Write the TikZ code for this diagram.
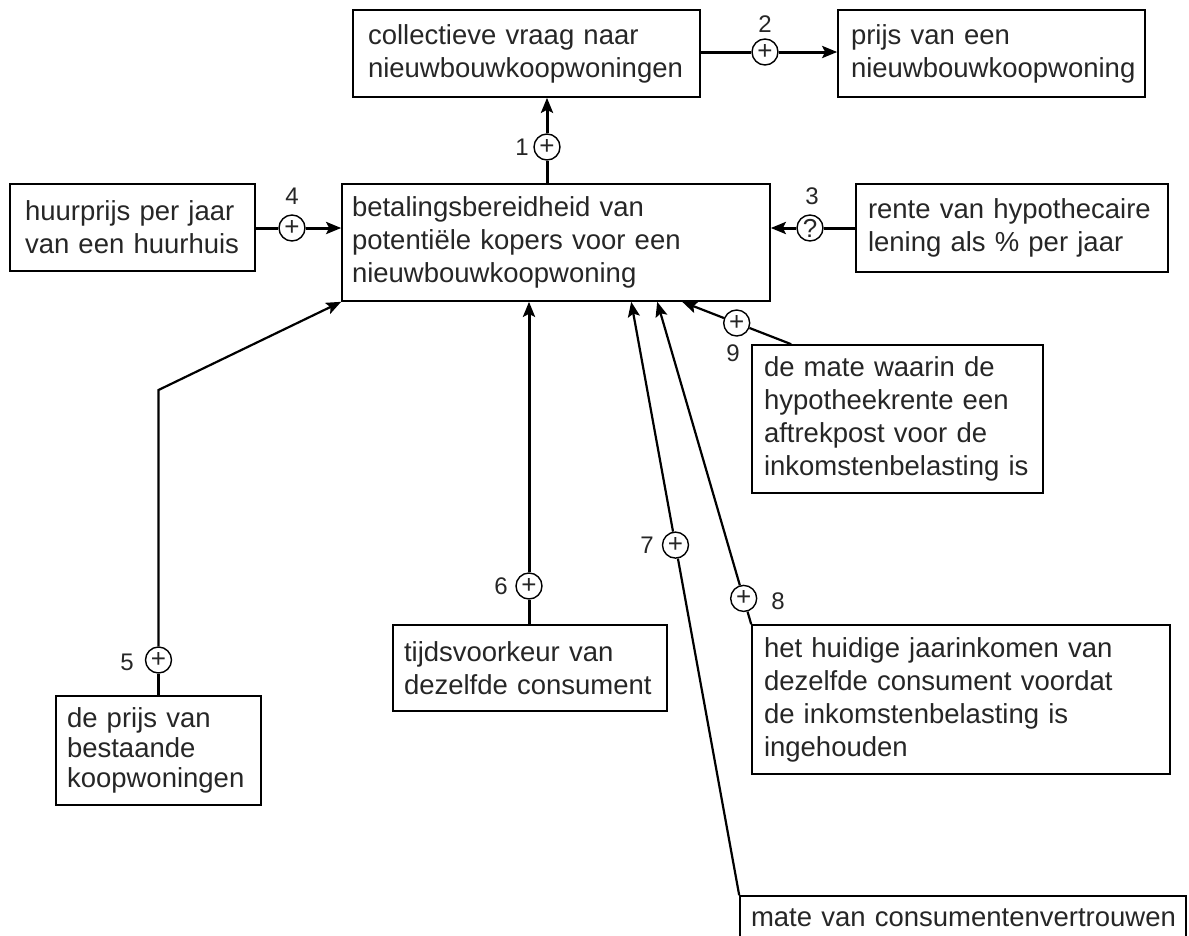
\documentclass[tikz,border=0pt]{standalone}
\usepackage{fontspec}
\setmainfont{Liberation Sans}
\usetikzlibrary{arrows.meta,calc}
\definecolor{txt}{HTML}{262626}
\begin{document}
\begin{tikzpicture}[x=1pt,y=-1pt,
  box/.style={draw, line width=1.6pt, inner ysep=0pt, align=left, text=txt, font=\fontsize{27.5}{33}\selectfont},
  sign/.style={circle, draw, fill=white, line width=1.4pt, minimum size=26pt, inner sep=0pt, font=\fontsize{26}{26}\selectfont, text=txt},
  num/.style={font=\fontsize{24}{24}\selectfont, text=txt, inner sep=0pt},
  heavy/.style={line width=3pt},
  light/.style={line width=2.2pt},
  arrowto/.style={-{Stealth[length=15pt,width=12pt,inset=3pt]}}]
\useasboundingbox (0,0) rectangle (1189,935);
% boxes
\node[box, minimum width=347pt, minimum height=87pt, text width=317pt, inner xsep=15pt] (A) at (526.5,53.5) {collectieve vraag naar\\nieuwbouwkoopwoningen};
\node[box, minimum width=307pt, minimum height=87pt, text width=281pt, inner xsep=13pt] (B) at (991.5,53.5) {prijs van een\\nieuwbouwkoopwoning};
\node[box, minimum width=428pt, minimum height=117pt, text width=408pt, inner xsep=10pt] (C) at (556,242.5) {betalingsbereidheid van\\potentiële kopers voor een\\nieuwbouwkoopwoning};
\node[box, minimum width=245pt, minimum height=87pt, text width=215pt, inner xsep=15pt] (D) at (132.5,227.5) {huurprijs per jaar\\van een huurhuis};
\node[box, minimum width=312pt, minimum height=88pt, text width=288pt, inner xsep=12pt] (E) at (1012,228) {rente van hypothecaire\\lening als \% per jaar};
\node[box, minimum width=291pt, minimum height=148pt, text width=267pt, inner xsep=12pt] (F) at (897.5,419) {de mate waarin de\\hypotheekrente een\\aftrekpost voor de\\inkomstenbelasting is};
\node[box, minimum width=418pt, minimum height=149pt, text width=394pt, inner xsep=12pt] (G) at (961,699.5) {het huidige jaarinkomen van\\dezelfde consument voordat\\de inkomstenbelasting is\\ingehouden};
\node[box, minimum width=274pt, minimum height=86pt, text width=252pt, inner xsep=11pt] (H) at (530,668) {tijdsvoorkeur van\\dezelfde consument};
\node[box, minimum width=205pt, minimum height=109pt, text width=183pt, inner xsep=11pt, font=\fontsize{27.5}{30}\selectfont] (I) at (158.5,750.5) {de prijs van\\bestaande\\koopwoningen};
\node[box, minimum width=446pt, minimum height=44pt, text width=432pt, inner xsep=7pt] (J) at (963,918) {\mbox{\hspace{4pt}mate van consumentenvertrouwen}};
% target / bend points
\coordinate (k5) at (158.5,390);
\coordinate (t7) at ($(C.south west)+(290,0)$);
\coordinate (t8) at ($(C.south west)+(316,0)$);
\coordinate (t9) at ($(C.south west)+(341,0)$);
\coordinate (f9) at ($(F.north west)+(40,0)$);
% signs
\node[sign] (s1) at (547,147) {+};
\node[sign] (s2) at (765,52) {+};
\node[sign] (s3) at (810,228) {?};
\node[sign] (s4) at (292,228) {+};
\node[sign] (s5) at (158.5,660) {+};
\node[sign] (s6) at (529,586) {+};
\node[sign] (s7) at ($(J.north west)!0.59!(t7)$) {+};
\node[sign] (s8) at ($(G.north west)!0.08!(t8)$) {+};
\node[sign] (s9) at ($(f9)!0.5!(t9)$) {+};
% numbers
\node[num] (n1) at (522,147) {1};
\node[num] (n2) at (765,24) {2};
\node[num] (n3) at (812,196) {3};
\node[num] (n4) at (292,196) {4};
\node[num] (n5) at (127,662) {5};
\node[num] (n6) at (501,586) {6};
\node[num] (n7) at (647,545) {7};
\node[num] (n8) at (778,601) {8};
\node[num] (n9) at (733,353) {9};
% connectors
\draw[heavy] (s1 |- C.north) -- (s1);
\draw[heavy, arrowto] (s1) -- (s1 |- A.south);
\draw[heavy] (A.east |- s2) -- (s2);
\draw[heavy, arrowto] (s2) -- (B.west |- s2);
\draw[heavy] (E.west |- s3) -- (s3);
\draw[heavy, arrowto] (s3) -- (C.east |- s3);
\draw[heavy] (D.east |- s4) -- (s4);
\draw[heavy, arrowto] (s4) -- (C.west |- s4);
\draw[light] (I.north) -- (s5);
\draw[light, arrowto] (s5) -- (k5) -- (C.south west);
\draw[heavy] (H.north -| s6) -- (s6);
\draw[heavy, arrowto] (s6) -- (s6 |- C.south);
\draw[light] (J.north west) -- (s7);
\draw[light, arrowto] (s7) -- (t7);
\draw[light] (G.north west) -- (s8);
\draw[light, arrowto] (s8) -- (t8);
\draw[light] (f9) -- (s9);
\draw[light, arrowto] (s9) -- (t9);
\end{tikzpicture}
\end{document}
